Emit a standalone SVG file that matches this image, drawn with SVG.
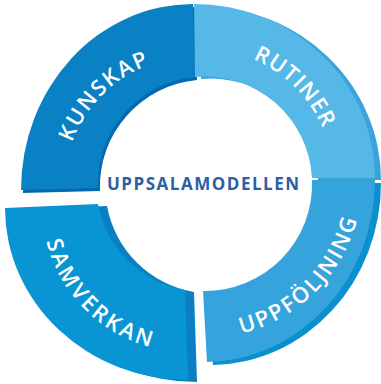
<svg xmlns="http://www.w3.org/2000/svg" width="381" height="384" viewBox="0 0 381 384">
<style>
.lbl{font-family:"Open Sans","Liberation Sans",sans-serif;font-size:22px;font-weight:600;fill:#ffffff;}
.title{font-family:"Open Sans","Liberation Sans",sans-serif;font-size:17px;font-weight:bold;fill:#2d5ea7;}
</style>
<defs>
<path id="fK" d="M21,190 A172,186 0 0 1 193,4 L195,77 A107,107 0 0 0 98,188 Z"/>
<path id="fR" d="M194,4 A181,174 0 0 1 375,178 L312,178 A107,107 0 0 0 195,77 Z"/>
<path id="fU" d="M375,180 A171,182 0 0 1 207,362 L203,291 A107,107 0 0 0 312,180 Z"/>
<path id="fS" d="M5,208 L98,204 A107,107 0 0 0 185,290 L188,380 A183,172 0 0 1 5,208 Z"/>
<path id="tK" d="M64,188 A132,132 0 0 1 196,56"/>
<path id="tR" d="M200,48 A134,134 0 0 1 334,182"/>
<path id="tU" d="M204,338 A158,158 0 0 0 362,180"/>
<path id="tS" d="M42,206 A146,146 0 0 0 188,352"/>
</defs>
<g id="sides">
<use href="#fK" transform="translate(2,3)" fill="#0569ad"/>
<use href="#fR" transform="translate(6,2)" fill="#3aa3db"/>
<use href="#fU" transform="translate(6,3)" fill="#0a8fcf"/>
<use href="#fS" transform="translate(9,2)" fill="#0a7fc3"/>
</g>
<g id="kunskap">
<use href="#fK" fill="#0a80c5"/>
<text class="lbl" letter-spacing="1.8"><textPath href="#tK" startOffset="50%" text-anchor="middle">KUNSKAP</textPath></text>
</g>
<g id="rutiner">
<use href="#fR" fill="#56b8e7"/>
<text class="lbl" letter-spacing="1.2"><textPath href="#tR" startOffset="50%" text-anchor="middle">RUTINER</textPath></text>
</g>
<g id="uppfoljning">
<use href="#fU" fill="#36a4dc"/>
<text class="lbl" letter-spacing="2.2"><textPath href="#tU" startOffset="50%" text-anchor="middle">UPPFÖLJNING</textPath></text>
</g>
<g id="samverkan">
<use href="#fS" fill="#0995d3"/>
<text class="lbl" letter-spacing="2.8"><textPath href="#tS" startOffset="50%" text-anchor="middle">SAMVERKAN</textPath></text>
</g>
<g id="center">
<text class="title" x="107" y="190" textLength="192" lengthAdjust="spacing">UPPSALAMODELLEN</text>
</g>
</svg>
